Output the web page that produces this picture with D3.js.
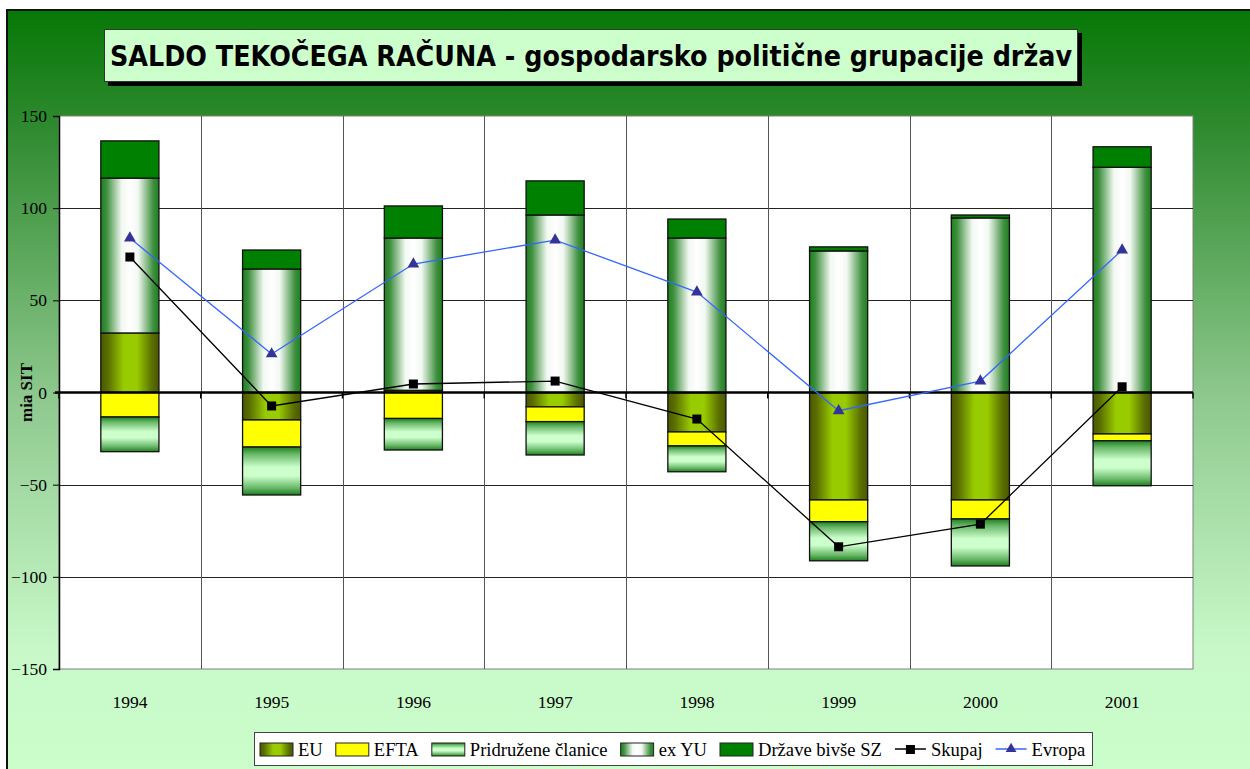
<!DOCTYPE html>
<html>
<head>
<meta charset="utf-8">
<script src="https://cdn.jsdelivr.net/npm/d3@7"></script>
<style>
  body { margin: 0; background: #fff; }
  svg { display: block; }
  .serif { font-family: "Liberation Serif", "Times New Roman", serif; }
</style>
</head>
<body>
<svg id="chart" width="1250" height="769"></svg>
<script>
// values (mia SIT)
const years = ["1994", "1995", "1996", "1997", "1998", "1999", "2000", "2001"];
const eu = [32.3, -14.9, 1.2, -7.8, -21.4, -58.3, -58.3, -22.5];
const efta = [-13.3, -14.7, -14.1, -8.0, -7.6, -11.8, -10.3, -3.7];
const pridruzene = [-18.8, -26.0, -17.1, -18.1, -14.0, -21.2, -25.5, -24.4];
const exYu = [84.0, 67.0, 82.6, 96.3, 83.8, 76.8, 94.7, 122.2];
const bivseSZ = [20.2, 10.3, 17.4, 18.5, 10.3, 2.2, 1.6, 11.1];
const skupaj = [73.5, -7.3, 4.6, 6.2, -14.4, -83.7, -71.4, 3.1];
const evropa = [83.8, 20.9, 69.7, 82.7, 54.5, -9.9, 6.2, 77.3];
const yTicks = [-150, -100, -50, 0, 50, 100, 150];

const seriesNames = ["EU", "EFTA", "Pridružene članice", "ex YU", "Države bivše SZ"];
const seriesValues = [eu, efta, pridruzene, exYu, bivseSZ];

const svg = d3.select("#chart");
const defs = svg.append("defs");

// gradients
function linGrad(id, vertical, stops) {
    const g = defs.append("linearGradient").attr("id", id)
        .attr("x1", 0).attr("y1", 0)
        .attr("x2", vertical ? 0 : 1).attr("y2", vertical ? 1 : 0);
    stops.forEach(s => g.append("stop").attr("offset", s[0]).attr("stop-color", s[1]));
}
linGrad("bg", true, [[0, "#067806"], [0.15, "#2f8a2f"], [0.5, "#8fc98f"], [0.82, "#c8f8c8"], [1, "#ccffcc"]]);
linGrad("gEU", false, [[0, "#4a5800"], [0.12, "#5a6e00"], [0.4, "#99cc00"], [0.62, "#99cc00"], [0.88, "#5a6e00"], [1, "#4a5800"]]);
linGrad("gYU", false, [[0, "#1f7f1f"], [0.1, "#3f903f"], [0.36, "#f2f8f2"], [0.5, "#ffffff"], [0.64, "#f2f8f2"], [0.9, "#3f903f"], [1, "#1f7f1f"]]);
linGrad("gPR", true, [[0, "#1f801f"], [0.15, "#6ab96a"], [0.42, "#ccffcc"], [0.6, "#ccffcc"], [0.85, "#6ab96a"], [1, "#1f801f"]]);

const fills = ["url(#gEU)", "#ffff00", "url(#gPR)", "url(#gYU)", "#008000"];
const color = d3.scaleOrdinal().domain(seriesNames).range(fills);

// outer background
svg.append("rect")
    .attr("x", 7).attr("y", 10).attr("width", 1260).attr("height", 780)
    .attr("fill", "url(#bg)").attr("stroke", "#111").attr("stroke-width", 2);

// title
svg.append("rect").attr("x", 108).attr("y", 33).attr("width", 974).attr("height", 53).attr("fill", "#000");
svg.append("rect").attr("x", 104.5).attr("y", 29.5).attr("width", 973).attr("height", 52)
    .attr("fill", "#ccffcc").attr("stroke", "#333").attr("stroke-width", 1);
svg.append("text")
    .attr("x", 110).attr("y", 66)
    .style("font-family", "'DejaVu Sans', Verdana, sans-serif")
    .attr("font-weight", "bold").attr("font-size", 27.5)
    .attr("textLength", 962).attr("lengthAdjust", "spacingAndGlyphs")
    .text("SALDO TEKOČEGA RAČUNA - gospodarsko politične grupacije držav");

// plot area
const pLeft = 59, pRight = 1193, pTop = 116, pBottom = 669;
const x = d3.scaleBand().domain(years).range([pLeft, pRight]).padding(0);
const y = d3.scaleLinear().domain([-150, 150]).range([pBottom, pTop]);
const barW = x.bandwidth() * 0.41;

svg.append("rect").attr("x", pLeft).attr("y", pTop).attr("width", pRight - pLeft).attr("height", pBottom - pTop)
    .attr("fill", "#fff").attr("stroke", "#808080").attr("stroke-width", 1);

// grid
svg.append("g").selectAll("line").data(yTicks.filter(d => d !== 0 && d !== -150 && d !== 150)).join("line")
    .attr("x1", pLeft).attr("x2", pRight)
    .attr("y1", d => Math.round(y(d)) + 0.5).attr("y2", d => Math.round(y(d)) + 0.5)
    .attr("stroke", "#222").attr("stroke-width", 1);
svg.append("g").selectAll("line").data(years.slice(1)).join("line")
    .attr("x1", d => Math.round(x(d)) + 0.5).attr("x2", d => Math.round(x(d)) + 0.5)
    .attr("y1", pTop).attr("y2", pBottom)
    .attr("stroke", "#555").attr("stroke-width", 1);

// stacked bars
const table = years.map((yr, i) => {
    const row = { year: yr };
    seriesNames.forEach((s, k) => row[s] = seriesValues[k][i]);
    return row;
});
const stack = d3.stack().keys(seriesNames).offset(d3.stackOffsetDiverging);
const layers = stack(table);

svg.append("g").selectAll("g").data(layers).join("g")
    .attr("fill", d => color(d.key))
    .selectAll("rect").data(d => d).join("rect")
    .attr("x", d => x(d.data.year) + (x.bandwidth() - barW) / 2)
    .attr("y", d => y(Math.max(d[0], d[1])))
    .attr("width", barW)
    .attr("height", d => Math.abs(y(d[0]) - y(d[1])))
    .attr("stroke", "#111").attr("stroke-width", 1.3);

// y axis
const yAxis = svg.append("g").attr("transform", `translate(${pLeft},0)`)
    .call(d3.axisLeft(y).tickValues(yTicks).tickSize(6).tickPadding(6));
yAxis.attr("font-family", null).attr("font-size", null);
yAxis.select(".domain").attr("stroke", "#000").attr("stroke-width", 1.5);
yAxis.selectAll(".tick line").attr("stroke", "#000");
yAxis.selectAll("text").attr("class", "serif").attr("font-size", 17.5).attr("fill", "#000");

// zero axis with ticks at category boundaries
svg.append("line").attr("x1", pLeft - 4).attr("x2", pRight).attr("y1", y(0)).attr("y2", y(0))
    .attr("stroke", "#000").attr("stroke-width", 2.5);
svg.append("g").selectAll("line").data(years.concat(["end"])).join("line")
    .attr("x1", (d, i) => pLeft + i * x.step()).attr("x2", (d, i) => pLeft + i * x.step())
    .attr("y1", y(0)).attr("y2", y(0) + 6)
    .attr("stroke", "#000").attr("stroke-width", 1.5);

// category labels
svg.append("g").selectAll("text").data(years).join("text")
    .attr("class", "serif")
    .attr("x", d => x(d) + x.bandwidth() / 2).attr("y", 708)
    .attr("text-anchor", "middle")
    .attr("font-size", 17.5)
    .text(d => d);

svg.append("text")
    .attr("class", "serif")
    .attr("transform", `translate(32,${y(0)}) rotate(-90)`)
    .attr("text-anchor", "middle")
    .attr("font-weight", "bold").attr("font-size", 17)
    .text("mia SIT");

// lines
const cx = d => x(d) + x.bandwidth() / 2;
const line = d3.line().x(d => cx(d[0])).y(d => y(d[1]));
const skupajPts = years.map((yr, i) => [yr, skupaj[i]]);
const evropaPts = years.map((yr, i) => [yr, evropa[i]]);

svg.append("path").datum(skupajPts).attr("d", line).attr("fill", "none").attr("stroke", "#000").attr("stroke-width", 1.3);
svg.append("path").datum(evropaPts).attr("d", line).attr("fill", "none").attr("stroke", "#3366ff").attr("stroke-width", 1.3);

svg.append("g").selectAll("rect").data(skupajPts).join("rect")
    .attr("x", d => cx(d[0]) - 4.5).attr("y", d => y(d[1]) - 4.5)
    .attr("width", 9).attr("height", 9).attr("fill", "#000");
const tri = d3.symbol().type(d3.symbolTriangle).size(60);
svg.append("g").selectAll("path").data(evropaPts).join("path")
    .attr("transform", d => `translate(${cx(d[0])},${y(d[1])})`)
    .attr("d", tri).attr("fill", "#333399");

// legend
const lg = svg.append("g");
lg.append("rect").attr("x", 254.5).attr("y", 732.5).attr("width", 838).attr("height", 33)
    .attr("fill", "#fff").attr("stroke", "#444").attr("stroke-width", 1);
const legendItems = seriesNames.map(s => ({ name: s, kind: "bar" }))
    .concat([{ name: "Skupaj", kind: "sk" }, { name: "Evropa", kind: "ev" }]);
let lx = 260;
const ly = 749;
legendItems.forEach(it => {
    if (it.kind === "bar") {
        lg.append("rect").attr("x", lx).attr("y", ly - 6).attr("width", 33).attr("height", 13)
            .attr("fill", color(it.name)).attr("stroke", "#222").attr("stroke-width", 1);
        lx += 38;
    } else {
        const c = it.kind === "sk" ? "#000" : "#3366ff";
        lg.append("line").attr("x1", lx).attr("x2", lx + 31).attr("y1", ly).attr("y2", ly).attr("stroke", c).attr("stroke-width", 1.5);
        if (it.kind === "sk") {
            lg.append("rect").attr("x", lx + 11).attr("y", ly - 4).attr("width", 9).attr("height", 9).attr("fill", "#000");
        } else {
            lg.append("path").attr("transform", `translate(${lx + 15.5},${ly})`).attr("d", d3.symbol().type(d3.symbolTriangle).size(50)).attr("fill", "#333399");
        }
        lx += 36;
    }
    const t = lg.append("text").attr("class", "serif").attr("x", lx).attr("y", ly + 6.5)
        .attr("font-size", 18.6)
        .text(it.name);
    lx += t.node().getComputedTextLength() + 13;
});
</script>
</body>
</html>
